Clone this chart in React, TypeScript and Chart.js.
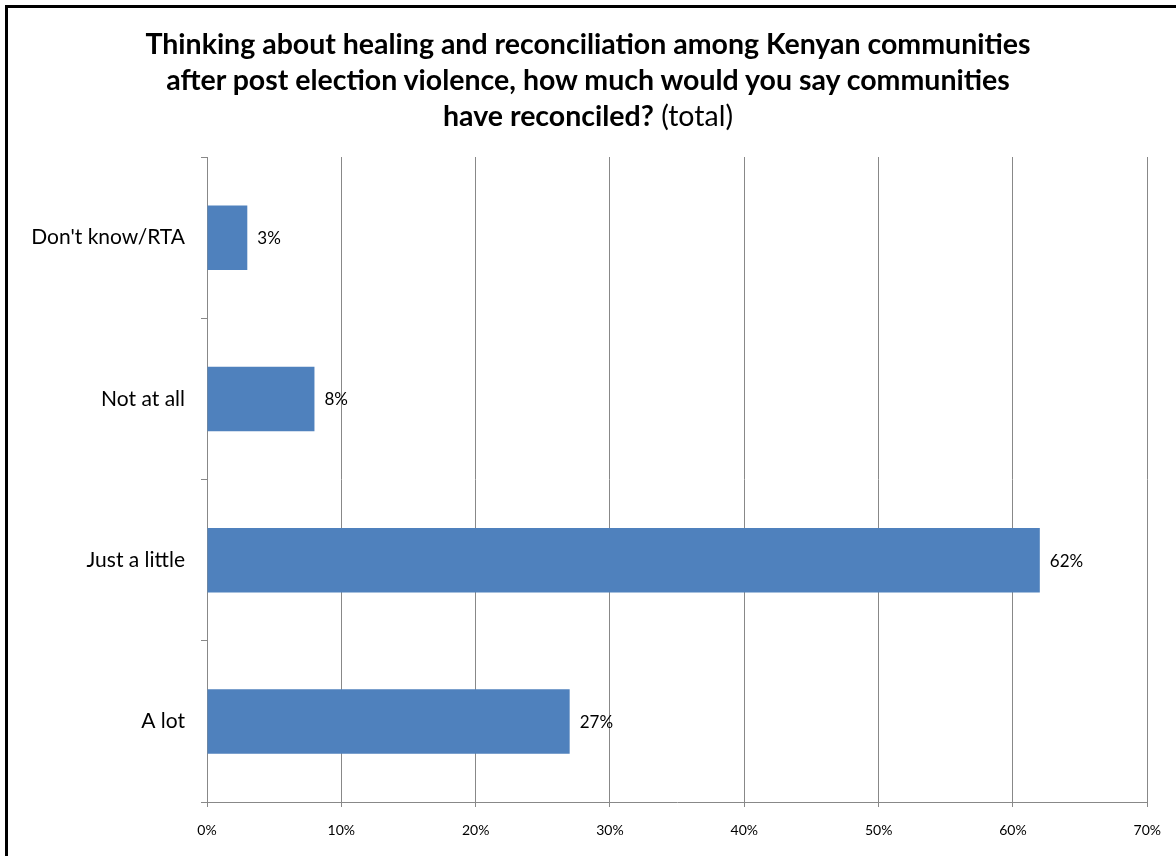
import React, { useEffect, useRef } from "react";
import { Chart, registerables } from "chart.js";

Chart.register(...registerables);

const categories = ["Don't know/RTA", "Not at all", "Just a little", "A lot"];
const values = [3, 8, 62, 27];
const xTicks = [0, 10, 20, 30, 40, 50, 60, 70];
const titleBold = [
  "Thinking about healing and reconciliation among Kenyan communities",
  "after post election violence, how much would you say communities",
  "have reconciled?",
];
const titleNormal = " (total)";

const FONT = "Lato, 'Open Sans', sans-serif";
const GRID = "#888888";

const labelPlugin = {
  id: "barLabels",
  afterDatasetsDraw(chart: any) {
    const ctx = chart.ctx;
    const meta = chart.getDatasetMeta(0);
    ctx.save();
    ctx.font = `17px ${FONT}`;
    ctx.fillStyle = "#000";
    ctx.textAlign = "left";
    ctx.textBaseline = "middle";
    meta.data.forEach((bar: any, i: number) => {
      ctx.fillText(`${values[i]}%`, bar.x + 10, bar.y + 1);
    });
    ctx.restore();
  },
};

export default function App() {
  const ref = useRef<HTMLCanvasElement | null>(null);

  useEffect(() => {
    document.body.style.margin = "0";
    if (!ref.current) return;
    const chart = new Chart(ref.current, {
      type: "bar",
      data: {
        labels: categories,
        datasets: [
          {
            data: values,
            backgroundColor: "#4F81BD",
            borderWidth: 0,
            barPercentage: 0.4,
            categoryPercentage: 1,
          },
        ],
      },
      options: {
        indexAxis: "y",
        animation: false,
        responsive: false,
        maintainAspectRatio: false,
        layout: { padding: { top: 157, right: 27, bottom: 0, left: 0 } },
        plugins: {
          legend: { display: false },
          tooltip: { enabled: false },
          title: { display: false },
        },
        scales: {
          x: {
            min: xTicks[0],
            max: xTicks[xTicks.length - 1],
            afterBuildTicks: (scale: any) => {
              scale.ticks = xTicks.map((v) => ({ value: v }));
            },
            afterFit: (scale: any) => {
              scale.height = 54;
            },
            grid: {
              color: GRID,
              lineWidth: 1,
              tickLength: 5,
              drawTicks: true,
            },
            border: { color: GRID, width: 1 },
            ticks: {
              color: "#000",
              font: { family: FONT, size: 14 },
              padding: 15,
              callback: (v: any) => `${v}%`,
            },
          },
          y: {
            afterFit: (scale: any) => {
              scale.width = 207;
            },
            grid: {
              display: true,
              drawOnChartArea: false,
              offset: true,
              color: GRID,
              tickLength: 6,
            },
            border: { color: GRID, width: 1 },
            ticks: {
              color: "#000",
              font: { family: FONT, size: 21 },
              padding: 16,
            },
          },
        },
      },
      plugins: [labelPlugin],
    });
    return () => chart.destroy();
  }, []);

  return (
    <div
      style={{
        position: "relative",
        width: 1176,
        height: 856,
        overflow: "hidden",
        background: "#fff",
      }}
    >
      <div
        style={{
          position: "absolute",
          left: 5,
          top: 5,
          width: 1200,
          height: 900,
          border: "3px solid #000",
          boxSizing: "border-box",
        }}
      />
      <canvas
        ref={ref}
        width={1176}
        height={856}
        style={{ position: "absolute", left: 0, top: 0 }}
      />
      <div
        style={{
          position: "absolute",
          left: 0,
          top: 25,
          width: 1176,
          textAlign: "center",
          fontFamily: FONT,
          fontSize: 28.5,
          lineHeight: "36px",
          color: "#000",
        }}
      >
        <div style={{ fontWeight: 700 }}>{titleBold[0]}</div>
        <div style={{ fontWeight: 700 }}>{titleBold[1]}</div>
        <div>
          <span style={{ fontWeight: 700 }}>{titleBold[2]}</span>
          <span style={{ fontWeight: 400 }}>{titleNormal}</span>
        </div>
      </div>
    </div>
  );
}
